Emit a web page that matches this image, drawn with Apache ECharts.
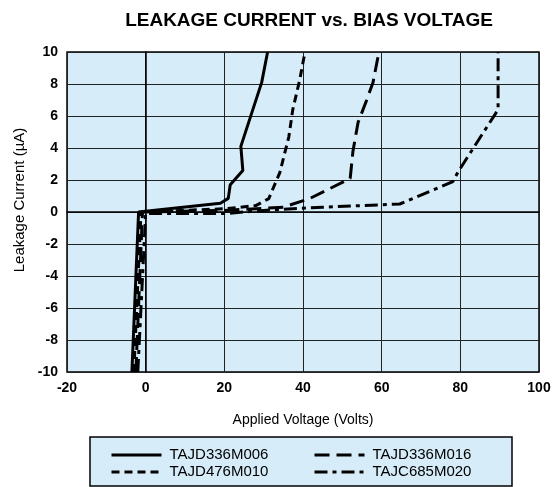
<!DOCTYPE html>
<html>
<head>
<meta charset="utf-8">
<script src="https://cdn.jsdelivr.net/npm/echarts@6/dist/echarts.min.js"></script>
<style>
    html, body { margin: 0; padding: 0; background: #fff; }
    #chart { width: 560px; height: 487px; }
</style>
</head>
<body>
<div id="chart"></div>
<script>
    // 曲线数据 (x = 电压 V, y = 漏电流 µA)
    const m006X = [-3.5, -1.8, 19, 21, 21.5, 24.7, 24.2, 29.5, 31]
    const m006Y = [-10, 0, 0.55, 0.85, 1.7, 2.6, 4.1, 8.1, 10]

    const m010X = [-3, -1.2, 20, 28, 31.3, 34.1, 36.4, 37.4, 39.2, 40.5]
    const m010Y = [-10, 0, 0.2, 0.4, 0.84, 2.46, 4.7, 6.4, 8.3, 10]

    const m016X = [-2.5, -0.8, 20, 35, 41.7, 52, 52.7, 54, 56.2, 57.8, 59.3]
    const m016Y = [-10, 0, 0.1, 0.3, 0.84, 2.1, 3.8, 5.6, 7.0, 8.1, 10]

    const m020X = [-2, 0, 20, 30, 45, 64.6, 78.1, 79.4, 89.6, 89.6]
    const m020Y = [-10, -0.1, -0.1, 0.1, 0.3, 0.5, 1.9, 2.5, 6.4, 10]

    const names = ['TAJD336M006', 'TAJD476M010', 'TAJD336M016', 'TAJC685M020']

    const pairs = (xs, ys) => xs.map((x, i) => [x, ys[i]])

    const chart = echarts.init(document.getElementById('chart'))

    const lineSeries = (name, xs, ys, type) => ({
        name: name,
        type: 'line',
        data: pairs(xs, ys),
        symbol: 'none',
        color: '#000',
        lineStyle: { color: '#000', width: 3, type: type, cap: 'butt' }
    })

    const legendText = { fontFamily: 'Liberation Sans', fontSize: 15, color: '#000', lineHeight: 16, padding: [0, 0, 0, 3] }

    const legendBase = {
        orient: 'vertical',
        top: 447,
        padding: 0,
        itemWidth: 50, itemHeight: 12, itemGap: 1,
        itemStyle: { opacity: 0 },
        lineStyle: { width: 3 },
        textStyle: legendText
    }

    chart.setOption({
        animation: false,
        title: {
            text: 'LEAKAGE CURRENT vs. BIAS VOLTAGE',
            left: 304,
            textAlign: 'center',
            top: 6,
            textStyle: { fontFamily: 'Liberation Sans', fontWeight: 'bold', fontSize: 19, color: '#000' }
        },
        graphic: [{
            type: 'rect',
            shape: { x: 90, y: 437, width: 422, height: 49 },
            style: { fill: '#d6ecf9', stroke: '#000', lineWidth: 1.5 },
            z: -1
        }],
        legend: [
            Object.assign({}, legendBase, { data: ['TAJD336M006', 'TAJD476M010'], left: 110 }),
            Object.assign({}, legendBase, { data: ['TAJD336M016', 'TAJC685M020'], left: 313 })
        ],
        grid: {
            left: 67, right: 21, top: 52, bottom: 115,
            show: true,
            backgroundColor: '#d6ecf9',
            borderColor: '#000',
            borderWidth: 1.5
        },
        xAxis: {
            type: 'value',
            min: -20, max: 100, interval: 20,
            name: 'Applied Voltage (Volts)',
            nameLocation: 'middle',
            nameGap: 41,
            nameTextStyle: { fontFamily: 'Liberation Sans', fontSize: 14, color: '#000' },
            axisLine: { lineStyle: { color: '#000', width: 1.5 } },
            axisTick: { show: false },
            axisLabel: { fontFamily: 'Liberation Sans', fontSize: 14, fontWeight: 'bold', color: '#000', margin: 9 },
            splitLine: { lineStyle: { color: '#222', width: 1 } }
        },
        yAxis: {
            type: 'value',
            min: -10, max: 10, interval: 2,
            name: 'Leakage Current (µA)',
            nameLocation: 'middle',
            nameGap: 36,
            nameTextStyle: { fontFamily: 'Liberation Sans', fontSize: 15, color: '#000', padding: [0, 0, 0, 24] },
            axisLine: { lineStyle: { color: '#000', width: 1.5 } },
            axisTick: { show: false },
            axisLabel: { fontFamily: 'Liberation Sans', fontSize: 14, fontWeight: 'bold', color: '#000', margin: 9 },
            splitLine: { lineStyle: { color: '#222', width: 1 } }
        },
        series: [
            lineSeries(names[0], m006X, m006Y, 'solid'),
            lineSeries(names[1], m010X, m010Y, [8, 5]),
            lineSeries(names[2], m016X, m016Y, [15, 7]),
            lineSeries(names[3], m020X, m020Y, [13, 5, 4, 5])
        ]
    })
</script>
</body>
</html>
